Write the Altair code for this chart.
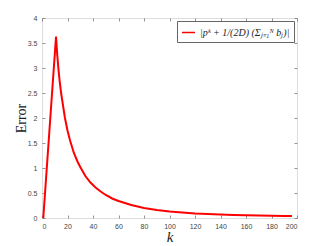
import altair as alt
import pandas as pd

k_vals = [1, 11, 12, 13, 14, 15, 16, 18, 20, 22, 25, 28, 30, 34, 38, 42, 46, 50, 55, 60,
          70, 80, 90, 100, 110, 120, 130, 140, 150, 160, 170, 180, 190, 196]
err_vals = [0, 3.63, 3.25, 2.95, 2.7, 2.5, 2.33, 2.0, 1.75, 1.55, 1.3, 1.12, 1.02, 0.84, 0.71,
            0.61, 0.53, 0.46, 0.39, 0.34, 0.26, 0.2, 0.16, 0.13, 0.11, 0.09, 0.078, 0.068,
            0.06, 0.053, 0.048, 0.044, 0.04, 0.038]
series_label = "|pᵏ + 1/(2D) (Σⱼ₌₁ᴺ bⱼ)|"
x_ticks = [0, 20, 40, 60, 80, 100, 120, 140, 160, 180, 200]
y_ticks = [0, 0.5, 1, 1.5, 2, 2.5, 3, 3.5, 4]

df = pd.DataFrame({"k": k_vals, "err": err_vals, "s": [series_label] * len(k_vals)})

xs = alt.Scale(domain=[0, 200], nice=False)
ys = alt.Scale(domain=[0, 4], nice=False)

tick_col = "#666"
lab_col = "#444"

main = alt.Chart(df).mark_line(strokeWidth=2, clip=True).encode(
    x=alt.X("k:Q", scale=xs, axis=alt.Axis(
        orient="bottom", values=x_ticks, title="k", domain=False, grid=False,
        offset=-3, tickSize=3, tickColor=tick_col, tickWidth=0.7,
        labelPadding=4, labelFont="Liberation Sans", labelFontSize=7, labelColor=lab_col,
        titleFont="Liberation Serif", titleFontStyle="italic", titleFontWeight="normal",
        titleFontSize=15, titleColor="#222", titleBaseline="alphabetic", titleY=26)),
    y=alt.Y("err:Q", scale=ys, axis=alt.Axis(
        orient="left", values=y_ticks, format=".1~f", title="Error", domain=False, grid=False,
        offset=-3, tickSize=3, tickColor=tick_col, tickWidth=0.7,
        labelPadding=5, labelFont="Liberation Sans", labelFontSize=7, labelColor=lab_col,
        titleFont="Liberation Serif", titleFontWeight="normal", titleFontSize=14,
        titleColor="#222", titleBaseline="middle", titleAngle=-90, titleX=-24, titleY=100)),
    color=alt.Color("s:N", scale=alt.Scale(range=["#ff0000"]), legend=alt.Legend(
        title=None, orient="top-right", offset=3, strokeColor="#666", fillColor="white",
        padding=4, symbolType="stroke", symbolStrokeWidth=1.5, symbolSize=169,
        labelFont="Liberation Serif", labelFontStyle="italic", labelFontSize=10,
        labelColor="#222", labelLimit=300, labelOffset=4, cornerRadius=0)),
)

frame = alt.Chart(df).mark_line(opacity=0).encode(
    x=alt.X("k:Q", scale=xs, axis=alt.Axis(
        orient="top", values=x_ticks, labels=False, title=None, domain=False, grid=False,
        offset=-3, tickSize=3, tickColor=tick_col, tickWidth=0.7)),
    y=alt.Y("err:Q", scale=ys, axis=alt.Axis(
        orient="right", values=y_ticks, labels=False, title=None, domain=False, grid=False,
        offset=-3, tickSize=3, tickColor=tick_col, tickWidth=0.7)),
)

chart = alt.layer(main, frame).resolve_axis(x="independent", y="independent").properties(
    width=255, height=200,
    autosize=alt.AutoSizeParams(type="none"),
    padding={"left": 34, "top": 10, "right": 20, "bottom": 28},
).configure_view(stroke="#777", strokeWidth=0.8).configure(background="white")

chart.save("out.html", embed_options={"renderer": "svg", "actions": False})
